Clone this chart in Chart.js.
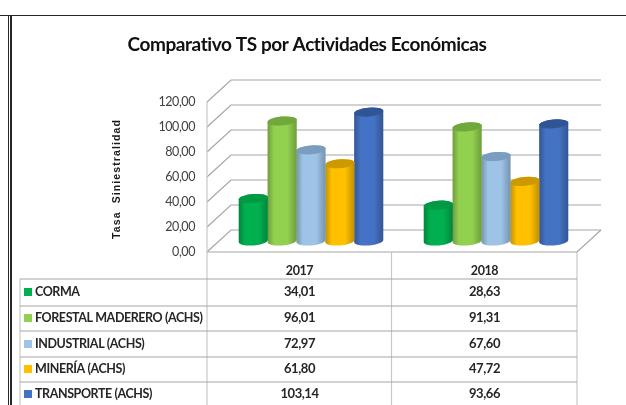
<!DOCTYPE html>
<html><head><meta charset="utf-8">
<style>
html,body{margin:0;padding:0;background:#fff;overflow:hidden}
#wrap{position:relative;width:626px;height:405px;overflow:hidden}
canvas{position:absolute;left:0;top:0}
.b{position:absolute;background:#262626}
</style>
<script src="https://cdn.jsdelivr.net/npm/chart.js@4"></script>
</head><body>
<div id="wrap">
<canvas id="c" width="614" height="405" style="width:614px;height:405px"></canvas>
<div class="b" style="left:0;top:15px;width:626px;height:1px"></div>
<div class="b" style="left:8px;top:15px;width:1px;height:390px"></div>
<div class="b" style="left:10px;top:15px;width:2px;height:390px"></div>
</div>
<script>
const chartTitle = 'Comparativo TS por Actividades Económicas';
const yTitle = 'Tasa  Siniestralidad ';
const categories = ['2017', '2018'];
const corma = [34.01, 28.63];
const forestal = [96.01, 91.31];
const industrial = [72.97, 67.60];
const mineria = [61.80, 47.72];
const transporte = [103.14, 93.66];
const seriesNames = ['CORMA', 'FORESTAL MADERERO (ACHS)', 'INDUSTRIAL (ACHS)', 'MINERÍA (ACHS)', 'TRANSPORTE (ACHS)'];
const seriesValues = [corma, forestal, industrial, mineria, transporte];
const seriesColors = ['#00b050', '#92d050', '#9dc3e6', '#ffc000', '#4472c4'];
const edgeColors = ['#00843c', '#6e9c3c', '#7693ad', '#bf9000', '#335593'];
const capColors = ['#009944', '#70a83c', '#7a9cc0', '#cc9a00', '#2f5597'];

const fmt = v => v.toFixed(2).replace('.', ',');
const depthX = 24, depthY = 22, barDX = 11.5, barDY = 11;
const gridCol = '#a6a6a6', FONT = 'Lato, sans-serif', TXT = '#262626';
const SPACING = '-0.42px';
const rowLines = [279, 306, 331, 357, 382];
const rowCenters = [292, 318, 344, 369, 394];

const wall = {
  id: 'wall',
  beforeInit(chart) { chart.ctx.letterSpacing = SPACING; },
  beforeUpdate(chart) { chart.ctx.letterSpacing = SPACING; },
  beforeDraw(chart) { chart.ctx.letterSpacing = SPACING; },
  beforeDatasetsDraw(chart) {
    const {ctx, chartArea: a, scales: {y}} = chart;
    ctx.save();
    ctx.strokeStyle = gridCol; ctx.lineWidth = 1.2;
    y.ticks.forEach(t => {
      const p = y.getPixelForValue(t.value);
      ctx.beginPath();
      ctx.moveTo(a.left, p);
      ctx.lineTo(a.left + depthX, p - depthY);
      ctx.lineTo(a.right + depthX, p - depthY);
      ctx.stroke();
    });
    const p0 = y.getPixelForValue(0);
    ctx.beginPath();
    ctx.moveTo(a.right + depthX, p0 - depthY);
    ctx.lineTo(a.right, p0);
    ctx.lineTo(a.left, p0);
    ctx.stroke();
    ctx.beginPath();
    ctx.strokeStyle = '#c8c8c8';
    ctx.moveTo(a.left, a.top);
    ctx.lineTo(a.left, 405);
    ctx.stroke();
    // data table
    const xs = chart.scales.x;
    const c1 = a.left + (a.right - a.left) / 2 - 0.5;
    ctx.strokeStyle = '#c8c8c8'; ctx.lineWidth = 1.2;
    [c1, a.right].forEach(x => { ctx.beginPath(); ctx.moveTo(x, p0); ctx.lineTo(x, 405); ctx.stroke(); });
    ctx.beginPath(); ctx.moveTo(20, rowLines[0]); ctx.lineTo(20, 405); ctx.stroke();
    ctx.strokeStyle = gridCol;
    rowLines.forEach(r => { ctx.beginPath(); ctx.moveTo(20, r); ctx.lineTo(a.right, r); ctx.stroke(); });
    ctx.textBaseline = 'middle';
    seriesNames.forEach((n, i) => {
      ctx.fillStyle = seriesColors[i];
      ctx.fillRect(24, rowCenters[i] - 4, 8, 8);
      ctx.fillStyle = TXT;
      ctx.font = 'bold 12.5px ' + FONT;
      ctx.textAlign = 'left';
      ctx.fillText(n, 35, rowCenters[i]);
      ctx.font = 'bold 13px ' + FONT;
      ctx.textAlign = 'center';
      categories.forEach((c, j) => ctx.fillText(fmt(seriesValues[i][j]), xs.getPixelForValue(j), rowCenters[i]));
    });
    ctx.restore();
  },
  beforeDatasetDraw(chart, args) {
    const {ctx} = chart, i = args.index, rot = -0.09, ry = 4.4;
    chart.getDatasetMeta(i).data.forEach(el => {
      const cx = el.x + barDX, rx = el.width / 2 + 0.2;
      const ty = el.y - barDY, by = el.base - barDY;
      const g = ctx.createLinearGradient(cx - rx, 0, cx + rx, 0);
      g.addColorStop(0, edgeColors[i]);
      g.addColorStop(0.22, seriesColors[i]);
      g.addColorStop(0.68, seriesColors[i]);
      g.addColorStop(1, edgeColors[i]);
      ctx.save();
      ctx.fillStyle = g;
      ctx.beginPath();
      ctx.ellipse(cx, by, rx, ry, rot, 0, Math.PI);
      ctx.ellipse(cx, ty, rx, ry, rot, Math.PI, 2 * Math.PI);
      ctx.closePath();
      ctx.fill();
      ctx.fillStyle = capColors[i];
      ctx.beginPath();
      ctx.ellipse(cx, ty, rx, ry, rot, 0, 2 * Math.PI);
      ctx.fill();
      ctx.restore();
    });
    return false;
  }
};

new Chart(document.getElementById('c'), {
  type: 'bar',
  data: {
    labels: categories,
    datasets: seriesNames.map((n, i) => ({label: n, data: seriesValues[i], backgroundColor: seriesColors[i]}))
  },
  plugins: [wall],
  options: {
    responsive: false,
    animation: false,
    events: [],
    datasets: {bar: {categoryPercentage: 0.78, barPercentage: 1}},
    plugins: {
      legend: {display: false},
      tooltip: {enabled: false},
      title: {
        display: true, text: chartTitle, color: '#111',
        font: {family: FONT, size: 19, weight: 'bold'},
        padding: {top: 33, bottom: 46.2}
      }
    },
    scales: {
      x: {
        afterFit(s) { s.height = 153; },
        grid: {display: false, drawTicks: false},
        border: {display: false},
        ticks: {color: TXT, padding: 11, font: {family: FONT, size: 12.5, weight: 'bold'}}
      },
      y: {
        min: 0, max: 120,
        afterFit(s) {
          s.width = 207;
          if (!s._spaced) {
            const draw = s.drawTitle;
            s.drawTitle = function () {
              const c = this.ctx;
              c.letterSpacing = '1.1px';
              draw.call(this);
              c.letterSpacing = SPACING;
            };
            s._spaced = true;
          }
        },
        grid: {display: false, drawTicks: false},
        border: {display: false},
        ticks: {stepSize: 20, padding: 12, color: '#404040', font: {family: FONT, size: 12.5}, callback: v => fmt(v)},
        title: {display: true, text: yTitle, color: '#1a1a1a', padding: {top: 111, bottom: 0},
          font: {family: '"Liberation Sans", sans-serif', size: 10.5, weight: 'bold'}}
      },
      right: {
        position: 'right', display: true, min: 0, max: 120,
        afterFit(s) { s.width = 37; },
        grid: {display: false, drawTicks: false},
        border: {display: false},
        ticks: {display: false}
      }
    }
  }
});
</script>
</body></html>
